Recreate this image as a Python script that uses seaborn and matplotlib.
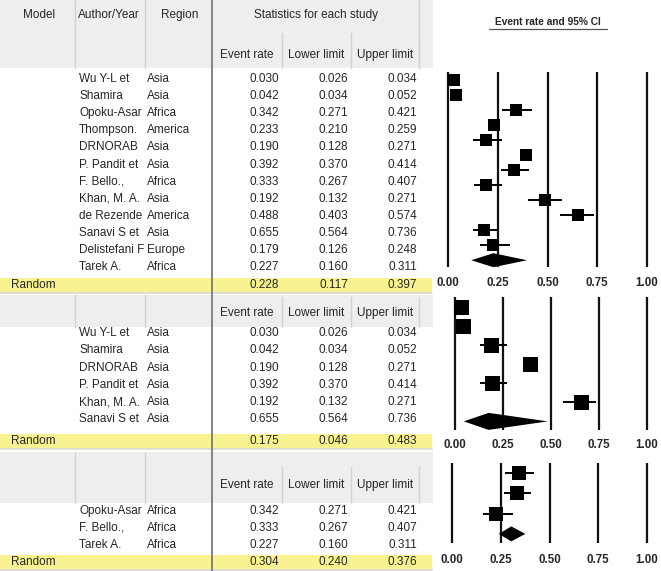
import numpy as np
import pandas as pd
import seaborn as sns
import matplotlib.pyplot as plt

# ---- data ----
all_author = ["Wu Y-L et", "Shamira", "Opoku-Asar", "Thompson.", "DRNORAB", "P. Pandit et",
              "F. Bello.,", "Khan, M. A.", "de Rezende", "Sanavi S et", "Delistefani F", "Tarek A."]
all_region = ["Asia", "Asia", "Africa", "America", "Asia", "Asia",
              "Africa", "Asia", "America", "Asia", "Europe", "Africa"]
all_rate = [0.030, 0.042, 0.342, 0.233, 0.190, 0.392, 0.333, 0.192, 0.488, 0.655, 0.179, 0.227]
all_lower = [0.026, 0.034, 0.271, 0.210, 0.128, 0.370, 0.267, 0.132, 0.403, 0.564, 0.126, 0.160]
all_upper = [0.034, 0.052, 0.421, 0.259, 0.271, 0.414, 0.407, 0.271, 0.574, 0.736, 0.248, 0.311]
all_pooled = [0.228, 0.117, 0.397]

asia_author = ["Wu Y-L et", "Shamira", "DRNORAB", "P. Pandit et", "Khan, M. A.", "Sanavi S et"]
asia_region = ["Asia", "Asia", "Asia", "Asia", "Asia", "Asia"]
asia_rate = [0.030, 0.042, 0.190, 0.392, 0.192, 0.655]
asia_lower = [0.026, 0.034, 0.128, 0.370, 0.132, 0.564]
asia_upper = [0.034, 0.052, 0.271, 0.414, 0.271, 0.736]
asia_pooled = [0.175, 0.046, 0.483]

africa_author = ["Opoku-Asar", "F. Bello.,", "Tarek A."]
africa_region = ["Africa", "Africa", "Africa"]
africa_rate = [0.342, 0.333, 0.227]
africa_lower = [0.271, 0.267, 0.160]
africa_upper = [0.421, 0.407, 0.311]
africa_pooled = [0.304, 0.240, 0.376]

ticks = [0.0, 0.25, 0.5, 0.75, 1.0]
tick_labels = ["0.00", "0.25", "0.50", "0.75", "1.00"]

sns.set_theme(style="white")
plt.rcParams["font.family"] = ["Liberation Sans", "DejaVu Sans"]

W, H = 661, 571
YELLOW = "#f8f390"
HEAD = "#eeeeee"
SEP = "#d2d2d2"
FS = 8.5

# layout of each block (pixels): header box, header text y, first row y, row step,
# random row y, forest box (top, bottom, x of 0, x of 1), marker px, diamond half px
panels = [
    dict(author=all_author, region=all_region, rate=all_rate, lower=all_lower, upper=all_upper,
         pooled=all_pooled, head=(0, 68), sub_y=55, sub_sep=33, row0=79, step=17.1, rand=285,
         box=(72, 267), x0=448, x1=647, mk=12, dia=7, pad=7, first=True),
    dict(author=asia_author, region=asia_region, rate=asia_rate, lower=asia_lower, upper=asia_upper,
         pooled=asia_pooled, head=(295, 327), sub_y=313, sub_sep=297, row0=333, step=17.3, rand=441,
         box=(297, 430), x0=455, x1=647, mk=15, dia=8.5, pad=6.5, first=False),
    dict(author=africa_author, region=africa_region, rate=africa_rate, lower=africa_lower,
         upper=africa_upper, pooled=africa_pooled, head=(452, 503), sub_y=485, sub_sep=467,
         row0=511, step=17, rand=562, box=(463, 543), x0=452, x1=647, mk=14, dia=7.5, pad=8,
         first=False),
]

fig = plt.figure(figsize=(W / 100, H / 100), dpi=100)
bg = fig.add_axes([0, 0, 1, 1])
bg.set_xlim(0, W)
bg.set_ylim(H, 0)
bg.axis("off")


def draw_table(p):
    top, bot = p["head"]
    bg.add_patch(plt.Rectangle((0, top), 433, bot - top, color=HEAD, lw=0, zorder=0))
    for x in [75, 145]:
        bg.plot([x, x], [top, bot], color=SEP, lw=1, zorder=1)
    for x in [282, 351, 419]:
        bg.plot([x, x], [p["sub_sep"], bot], color=SEP, lw=1, zorder=1)
    if p["first"]:
        bg.plot([419, 419], [top, bot], color=SEP, lw=1, zorder=1)
        bg.text(39, 15, "Model", ha="center", va="center", fontsize=FS)
        bg.text(78, 15, "Author/Year", ha="left", va="center", fontsize=FS)
        bg.text(180, 15, "Region", ha="center", va="center", fontsize=FS)
        bg.text(316, 15, "Statistics for each study", ha="center", va="center", fontsize=FS)
    for x, lab in zip([247, 316, 385], ["Event rate", "Lower limit", "Upper limit"]):
        bg.text(x, p["sub_y"], lab, ha="center", va="center", fontsize=FS)

    for i in range(len(p["author"])):
        y = p["row0"] + i * p["step"]
        bg.text(79, y, p["author"][i], ha="left", va="center", fontsize=FS)
        bg.text(147, y, p["region"][i], ha="left", va="center", fontsize=FS)
        for x, v in zip([279, 348, 417], [p["rate"][i], p["lower"][i], p["upper"][i]]):
            bg.text(x, y, f"{v:.3f}", ha="right", va="center", fontsize=FS)

    y = p["rand"]
    bg.add_patch(plt.Rectangle((0, y - 7.5), 432, 15, color=YELLOW, lw=0, zorder=0))
    bg.plot([0, 432], [y + 8, y + 8], color="#d8d8d8", lw=1.2, zorder=1)
    bg.text(11, y, "Random", ha="left", va="center", fontsize=FS)
    for x, v in zip([279, 348, 417], p["pooled"]):
        bg.text(x, y, f"{v:.3f}", ha="right", va="center", fontsize=FS)


def draw_forest(p):
    top, bot = p["box"]
    n = len(p["rate"])
    ax = fig.add_axes([430 / W, 1 - bot / H, 231 / W, (bot - top) / H])
    scale = p["x1"] - p["x0"]
    ax.set_xlim((430 - p["x0"]) / scale, (661 - p["x0"]) / scale)
    # rows: studies 0..n-1, diamond at n
    ax.set_ylim(n + 0.45, -0.5)
    for t in ticks:
        ax.axvline(t, color="#111111", lw=1.6, zorder=1)

    df = pd.DataFrame({"rate": p["rate"], "lower": p["lower"], "upper": p["upper"],
                       "row": np.arange(n)})
    ax.hlines(df["row"], df["lower"], df["upper"], color="black", lw=1.4, zorder=2)
    sns.scatterplot(data=df, x="rate", y="row", marker="s", color="black",
                    s=(p["mk"] * 0.72) ** 2, linewidth=0, ax=ax, zorder=3, legend=False)

    est, lo, hi = p["pooled"]
    h = p["dia"] / ((bot - top) / (n + 0.95))
    ax.fill([lo, est, hi, est], [n, n - h, n, n + h], color="black", lw=0, zorder=3)

    ax.set_xticks(ticks)
    ax.set_xticklabels(tick_labels, fontsize=8.3, fontweight="bold")
    ax.tick_params(axis="x", length=0, pad=p["pad"])
    ax.set_yticks([])
    ax.set_xlabel("")
    ax.set_ylabel("")
    for s in ax.spines.values():
        s.set_visible(False)
    ax.patch.set_alpha(0)


for p in panels:
    draw_table(p)
    draw_forest(p)

# dark divider between text columns and statistics
bg.plot([212, 212], [0, H], color="#7a7a7a", lw=1.3, zorder=2)

bg.text(548, 22, "Event rate and 95% CI", ha="center", va="center",
        fontsize=7.3, fontweight="bold")
bg.plot([489, 607], [29, 29], color="#555555", lw=0.9)

fig.savefig("out.png", dpi=100)
